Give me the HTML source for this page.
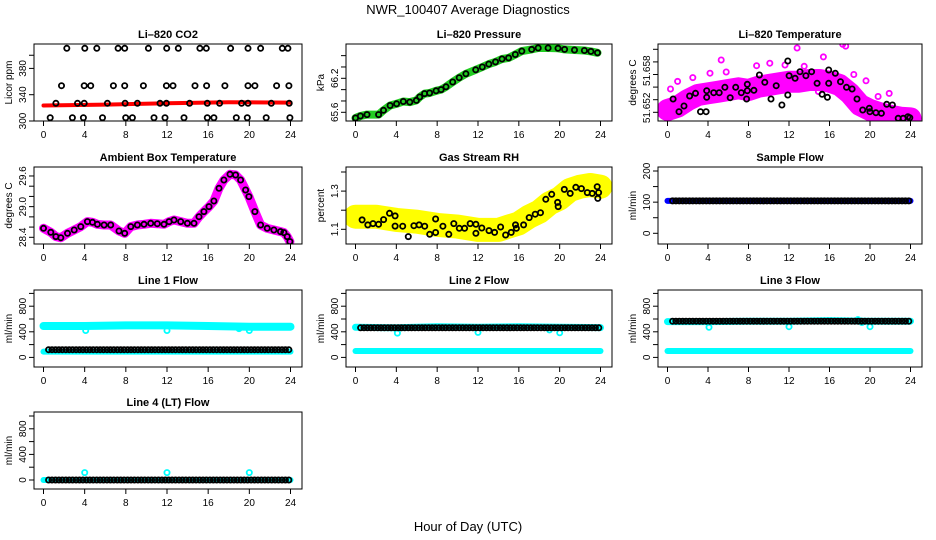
<!DOCTYPE html>
<html><head><meta charset="utf-8"><style>
html,body{margin:0;padding:0;background:#fff;}
svg{display:block;font-family:"Liberation Sans",sans-serif;}
</style></head><body>
<svg id="chart" width="936" height="540" viewBox="0 0 936 540" xmlns="http://www.w3.org/2000/svg">
<text x="468" y="14" text-anchor="middle" font-size="13">NWR_100407  Average Diagnostics</text>
<text x="468" y="531" text-anchor="middle" font-size="13">Hour of Day (UTC)</text>
</svg>
<script>
const xTicks = [0,4,8,12,16,20,24];
const blackHours = [0.5,0.83,1.17,1.5,1.83,2.17,2.5,2.83,3.17,3.5,3.83,4.17,4.5,4.83,5.17,5.5,5.83,6.17,6.5,6.83,7.17,7.5,7.83,8.17,8.5,8.83,9.17,9.5,9.83,10.17,10.5,10.83,11.17,11.5,11.83,12.17,12.5,12.83,13.17,13.5,13.83,14.17,14.5,14.83,15.17,15.5,15.83,16.17,16.5,16.83,17.17,17.5,17.83,18.17,18.5,18.83,19.17,19.5,19.83,20.17,20.5,20.83,21.17,21.5,21.83,22.17,22.5,22.83,23.17,23.5,23.83];

// CO2
const co2BandHours = [0,6,12,18,24];
const co2BandVals = [323.5,325,327,328.5,328];
const co2PtHours = [2.26,4.01,5.18,7.25,7.89,10.19,11.97,13.10,15.20,15.82,18.18,19.87,21.09,23.20,23.75,
 1.75,3.95,4.59,6.79,7.89,9.71,11.94,12.58,14.72,15.85,17.63,19.87,20.54,22.65,23.84,
 1.20,3.30,3.95,6.21,7.93,9.12,11.32,11.94,14.20,15.92,17.11,19.25,19.87,22.13,23.87,
 0.65,2.81,3.88,5.73,7.99,8.64,10.74,11.81,13.65,15.92,16.56,18.73,19.80,21.64,23.94];
const co2PtVals = [410.6,410.6,410.6,410.6,410.6,410.6,410.6,410.6,410.6,410.6,410.6,410.6,410.6,410.6,410.6,
 353.7,353.7,353.7,353.7,353.7,353.7,353.7,353.7,353.7,353.7,353.7,353.7,353.7,353.7,353.7,
 326.9,326.9,326.9,326.9,326.9,326.9,326.9,326.9,326.9,326.9,326.9,326.9,326.9,326.9,326.9,
 305,305,305,305,305,305,305,305,305,305,305,305,305,305,305];

// Pressure
const presHours = [0,0.48,1.13,2.26,2.74,3.39,4.03,4.68,5.32,5.97,6.29,6.77,7.26,7.90,8.39,8.87,9.52,10.16,10.81,11.77,12.42,13.06,13.71,14.35,15.0,15.65,16.29,17.26,17.9,18.87,19.84,20.48,21.45,22.42,23.06,23.71];
const presVals = [65.50,65.535,65.56,65.56,65.635,65.72,65.75,65.79,65.78,65.81,65.87,65.93,65.94,65.98,66.0,66.05,66.135,66.21,66.28,66.35,66.40,66.45,66.49,66.54,66.56,66.62,66.68,66.71,66.735,66.735,66.73,66.71,66.70,66.69,66.675,66.65];

// Li-820 temperature
const tempBandHours = [0,1,2,3,4,5,6,7,8,9,10,11,12,13,14,15,16,17,18,19,20,21,22,23,24];
const tempBandVals = [51.65037,51.65089,51.65195,51.65275,51.65302,51.65327,51.65354,51.65381,51.65354,51.65406,51.65433,51.6546,51.65486,51.65486,51.65513,51.65513,51.65486,51.65433,51.65302,51.65116,51.65037,51.64984,51.64946,51.64914,51.64905];
const tempOutHours = [0.3,1.0,2.5,4.2,5.3,5.8,7.0,8.8,10.1,11.6,12.8,13.5,14.9,15.4,16.9,17.3,17.6,18.4,19.6,20.8,21.9];
const tempOutVals = [51.6537,51.6549,51.6555,51.6562,51.6583,51.6564,51.6537,51.6574,51.6578,51.6575,51.6602,51.6573,51.6533,51.6588,51.6625,51.6608,51.6605,51.6560,51.6550,51.6525,51.6530];
const tempBlkHours = [0.55,1.14,1.63,2.18,2.77,3.26,3.81,3.87,3.87,4.56,5.11,5.67,6.19,6.74,7.29,7.81,7.88,7.88,8.53,9.08,9.61,10.22,10.74,11.30,11.88,11.88,12.01,12.60,13.09,13.67,14.23,14.78,15.27,15.79,15.92,15.92,16.57,17.09,17.68,18.23,18.72,19.28,19.93,19.99,20.58,21.13,21.65,22.21,22.79,23.28,23.74,23.93];
const tempBlkVals = [51.65211,51.6501,51.6510,51.65259,51.65302,51.6501,51.6501,51.65238,51.65343,51.65311,51.65311,51.65397,51.65232,51.65397,51.65311,51.65211,51.65343,51.65444,51.65349,51.65592,51.65476,51.65211,51.65422,51.65116,51.65275,51.65814,51.65581,51.6554,51.65644,51.65581,51.65644,51.6546,51.65286,51.65238,51.65671,51.6546,51.65619,51.65486,51.65397,51.6537,51.65211,51.65037,51.65063,51.6501,51.64994,51.64984,51.65127,51.65116,51.64905,51.64905,51.6493,51.64914];

// Ambient box temperature
const ambHours = [0,0.71,1.20,1.68,2.33,2.98,3.62,4.27,4.76,5.24,5.89,6.53,7.34,7.89,8.48,9.12,9.77,10.42,11.06,11.71,12.20,12.68,13.33,13.98,14.62,15.11,15.59,16.08,16.56,17.05,17.53,18.12,18.67,19.15,19.64,19.96,20.54,21.09,21.74,22.39,23.03,23.36,23.68,23.94];
const ambVals = [28.576,28.498,28.413,28.393,28.478,28.543,28.609,28.707,28.693,28.654,28.641,28.641,28.524,28.478,28.609,28.641,28.654,28.674,28.667,28.654,28.707,28.739,28.707,28.674,28.674,28.804,28.902,29.0,29.111,29.359,29.522,29.633,29.62,29.522,29.326,29.196,28.902,28.641,28.576,28.543,28.511,28.491,28.413,28.315];

// Gas stream RH
const rhBandHours = [0,2,4,6,8,10,12,14,15,16,17,18,19,20,21,22,23,24];
const rhBandVals = [1.166,1.166,1.149,1.140,1.123,1.114,1.097,1.097,1.114,1.131,1.166,1.192,1.236,1.262,1.306,1.323,1.332,1.323];
const rhBlkHours = [0.65,1.20,1.71,2.26,2.75,3.33,3.88,3.88,4.62,5.17,5.72,6.23,6.78,7.27,7.85,7.85,8.56,9.14,9.63,10.17,10.69,11.24,11.79,11.79,12.37,13.08,13.63,14.21,14.70,15.25,15.67,15.76,16.47,17.02,17.60,18.12,18.64,19.22,19.80,19.86,20.45,21.03,21.58,22.13,22.71,23.19,23.68,23.74,23.81];
const rhBlkVals = [1.149,1.123,1.130,1.126,1.151,1.184,1.170,1.117,1.116,1.062,1.119,1.123,1.116,1.074,1.083,1.154,1.116,1.074,1.130,1.105,1.105,1.130,1.126,1.079,1.107,1.093,1.084,1.112,1.070,1.084,1.123,1.105,1.123,1.161,1.179,1.187,1.257,1.283,1.241,1.219,1.309,1.288,1.320,1.313,1.292,1.288,1.323,1.262,1.292];

// Sample flow
const sampleBandHours = [0,24];
const sampleBandVals = [104,104];
const sampleBlkLevel = 104;

// Line flows
const flowBandHours = [0,4,8,12,16,20,24];
const line1High = [490,490,500,500,490,480,480];
const line1Low = [90,90,90,90,90,90,90];
const line1DipHours = [4.1,12.0,19.0,20.0];
const line1DipVals = [420,420,450,420];
const line1BlkLevel = 120;
const line2High = [470,462,480,470,480,470,465];
const line2Low = [100,100,100,100,100,100,100];
const line2DipHours = [4.1,12.0,19.0,20.0];
const line2DipVals = [380,390,430,385];
const line2BlkLevel = 462;
const line3High = [560,560,565,565,575,565,565];
const line3Low = [100,100,100,100,100,100,100];
const line3DipHours = [4.1,12.0,18.8,19.2,20.0];
const line3DipVals = [470,480,590,545,480];
const line3BlkLevel = 565;
const line4Low = [0,0,0,0,0,0,0];
const line4DipHours = [4.0,12.0,20.0];
const line4DipVals = [115,115,115];
const line4BlkLevel = 0;

const NS = "http://www.w3.org/2000/svg";
const svg = document.getElementById('chart');
const colL = [34,346,658], colR = [302,612,922];
const rowT = [44,167,290,412];
const H = 77;

function mk(tag, attrs, parent){
  const e = document.createElementNS(NS, tag);
  for (const k in attrs) e.setAttribute(k, attrs[k]);
  (parent||svg).appendChild(e);
  return e;
}

function panel(col,row,title,ylab,v0,p0,slope,ticks,labelVals,labelText,name){
  const L = colL[col], R = colR[col], T = rowT[row], B = T + H;
  const g = mk('g', {});
  
  
  const x = h => L + 9.5 + h/24*(R-L-21);
  const y = v => T + p0 - (v - v0)*slope;
  const clip = mk('clipPath', {id:'clip-'+name}, g);
  mk('rect', {x:L, y:T, width:R-L, height:H}, clip);
  const plot = mk('g', {'clip-path':'url(#clip-'+name+')'}, g);
  
  
  const frame = mk('rect', {x:L, y:T, width:R-L, height:H, fill:'none', stroke:'#000', 'stroke-width':1}, g);
  
  
  const t = mk('text', {x:(L+R)/2, y:T-6, 'text-anchor':'middle', 'font-size':11, 'font-weight':'bold'}, g);
  t.textContent = title;
  
  
  const xa = mk('g', {}, g);
  
  
  mk('line', {x1:x(xTicks[0]), x2:x(xTicks[xTicks.length-1]), y1:B, y2:B, stroke:'#000'}, xa);
  xTicks.forEach(h => {
    mk('line', {x1:x(h), x2:x(h), y1:B, y2:B+5, stroke:'#000'}, xa);
    const tl = mk('text', {x:x(h), y:B+17, 'text-anchor':'middle', 'font-size':10}, xa);
    tl.textContent = h;
    
    
  });
  const ya = mk('g', {}, g);
  
  
  const vis = ticks.filter(v => y(v) >= T-0.5 && y(v) <= B+0.5);
  mk('line', {x1:L, x2:L, y1:y(vis[0]), y2:y(vis[vis.length-1]), stroke:'#000'}, ya);
  vis.forEach(v => mk('line', {x1:L-5, x2:L, y1:y(v), y2:y(v), stroke:'#000'}, ya));
  labelVals.forEach((v,i) => {
    const tl = mk('text', {x:L-8, y:y(v), 'text-anchor':'middle', 'font-size':10, transform:'rotate(-90 '+(L-8)+' '+y(v)+')'}, ya);
    tl.textContent = labelText[i];
    
    
  });
  const yl = mk('text', {x:L-22, y:(T+B)/2, 'text-anchor':'middle', 'font-size':10, transform:'rotate(-90 '+(L-22)+' '+(T+B)/2+')'}, ya);
  yl.textContent = ylab;
  
  
  return {x, y, plot};
}

function band(p, hours, vals, color, w, name){
  const d = hours.map((h,i) => (i?'L':'M') + p.x(h).toFixed(1) + ' ' + p.y(vals[i]).toFixed(1)).join(' ');
  const e = mk('path', {d, fill:'none', stroke:color, 'stroke-width':w, 'stroke-linejoin':'round', 'stroke-linecap':'round'}, p.plot);
  
  
}
function pts(p, hours, vals, color, name, r){
  const g = mk('g', {}, p.plot);
  
  
  hours.forEach((h,i) => {
    const v = Array.isArray(vals) ? vals[i] : vals;
    const c = mk('circle', {cx:p.x(h).toFixed(1), cy:p.y(v).toFixed(1), r:r||2.6, fill:'none', stroke:color, 'stroke-width':1.8}, g);
    
    
  });
}

let p = panel(0,0,'Li\u2013820 CO2','Licor ppm',300,77,0.6575,[300,340,380,400],[300,340,380],['300','340','380'],'co2');
band(p, co2BandHours, co2BandVals, '#ff0000', 4, 'co2-red-band');
pts(p, co2PtHours, co2PtVals, '#000', 'co2-black-points');

p = panel(1,0,'Li\u2013820 Pressure','kPa',65.6,68.3,56.66,[65.6,65.8,66.0,66.2,66.4,66.6],[65.6,66.2],['65.6','66.2'],'pressure');
band(p, presHours, presVals, '#22cc22', 8, 'pressure-green-band');
pts(p, presHours, presVals, '#000', 'pressure-black-points');

p = panel(2,0,'Li\u2013820 Temperature','degrees C',51.65,68.3,6300,[51.65,51.652,51.654,51.656,51.658,51.66],[51.6507,51.6566],['51.652','51.658'],'li820-temp');
band(p, tempBandHours, tempBandVals, '#ff00ff', 22, 'temp-magenta-band');
pts(p, tempOutHours, tempOutVals, '#ff00ff', 'temp-magenta-points');
pts(p, tempBlkHours, tempBlkVals, '#000', 'temp-black-points');

p = panel(0,1,'Ambient Box Temperature','degrees C',28.4,70.3,51.1,[28.4,28.6,28.8,29.0,29.2,29.4,29.6],[28.4,29.0,29.6],['28.4','29.0','29.6'],'ambient');
band(p, ambHours, ambVals, '#ff00ff', 9, 'ambient-magenta-band');
pts(p, ambHours, ambVals, '#000', 'ambient-black-points');

p = panel(1,1,'Gas Stream RH','percent',1.1,62.3,191,[1.1,1.2,1.3,1.4],[1.1,1.3],['1.1','1.3'],'rh');
band(p, rhBandHours, rhBandVals, '#ffff00', 24, 'rh-yellow-band');
pts(p, rhBlkHours, rhBlkVals, '#000', 'rh-black-points');

p = panel(2,1,'Sample Flow','ml/min',0,66.3,0.3115,[0,50,100,150,200],[0,100,200],['0','100','200'],'sample-flow');
band(p, sampleBandHours, sampleBandVals, '#0000ff', 6, 'sample-blue-band');
pts(p, blackHours, sampleBlkLevel, '#000', 'sample-black-points');

const fT = [0,200,400,600,800,1000], fL = [0,400,800], fS = ['0','400','800'];
p = panel(0,2,'Line 1 Flow','ml/min',0,67.4,0.064,fT,fL,fS,'line1');
band(p, flowBandHours, line1High, '#00ffff', 8, 'line1-cyan-high');
band(p, flowBandHours, line1Low, '#00ffff', 6, 'line1-cyan-low');
pts(p, line1DipHours, line1DipVals, '#00ffff', 'line1-cyan-points');
pts(p, blackHours, line1BlkLevel, '#000', 'line1-black-points');

p = panel(1,2,'Line 2 Flow','ml/min',0,67.4,0.064,fT,fL,fS,'line2');
band(p, flowBandHours, line2High, '#00ffff', 7, 'line2-cyan-high');
band(p, flowBandHours, line2Low, '#00ffff', 6, 'line2-cyan-low');
pts(p, line2DipHours, line2DipVals, '#00ffff', 'line2-cyan-points');
pts(p, blackHours, line2BlkLevel, '#000', 'line2-black-points');

p = panel(2,2,'Line 3 Flow','ml/min',0,67.4,0.064,fT,fL,fS,'line3');
band(p, flowBandHours, line3High, '#00ffff', 7, 'line3-cyan-high');
band(p, flowBandHours, line3Low, '#00ffff', 6, 'line3-cyan-low');
pts(p, line3DipHours, line3DipVals, '#00ffff', 'line3-cyan-points');
pts(p, blackHours, line3BlkLevel, '#000', 'line3-black-points');

p = panel(0,3,'Line 4 (LT) Flow','ml/min',0,68,0.064,fT,fL,fS,'line4');
band(p, flowBandHours, line4Low, '#00ffff', 6, 'line4-cyan-low');
pts(p, line4DipHours, line4DipVals, '#00ffff', 'line4-cyan-points');
pts(p, blackHours, line4BlkLevel, '#000', 'line4-black-points');
</script>
</body></html>
